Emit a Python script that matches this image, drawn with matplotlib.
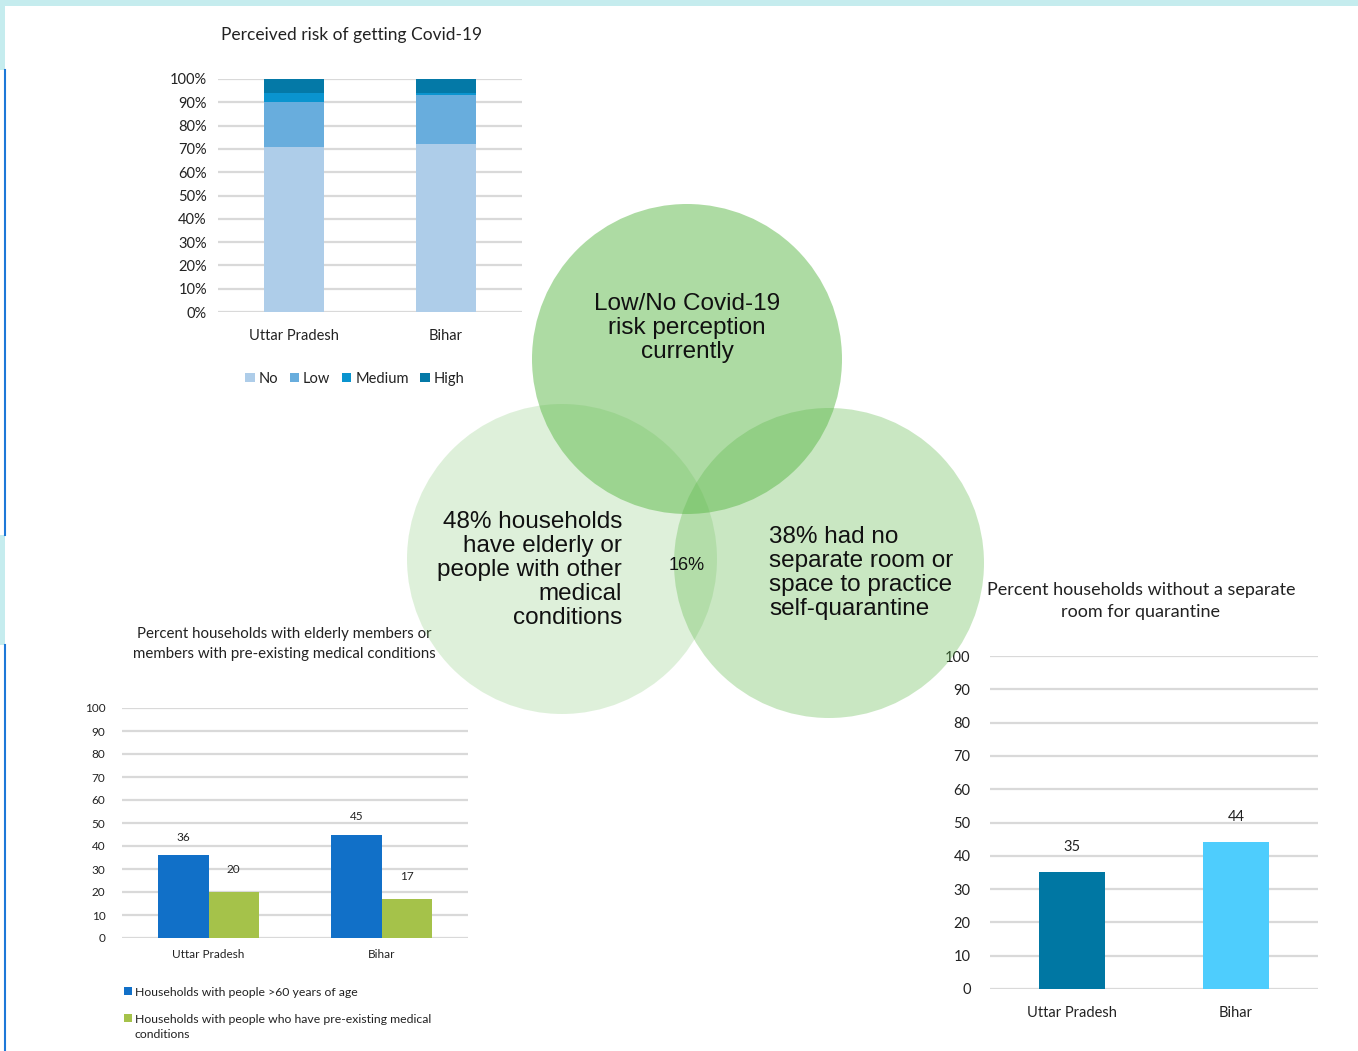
import matplotlib.pyplot as plt
from matplotlib.patches import Circle, Rectangle
import numpy as np

states = ['Uttar Pradesh', 'Bihar']

# perceived risk, % of households
risk_levels = ['No', 'Low', 'Medium', 'High']
risk_up = [71, 19, 4, 6]
risk_bihar = [72, 21, 1, 6]

# elderly / pre-existing conditions
elderly = [36, 45]
medical = [20, 17]

# no separate room for quarantine
no_room = [35, 44]

overlap_pct = '16%'

W, H = 1358, 1051
fig = plt.figure(figsize=(W / 100, H / 100), dpi=100)
font = ['Lato', 'DejaVu Sans']
plt.rcParams['font.family'] = font
grid_c = '#d9d9d9'
text_c = '#222222'


def px_axes(x0, y0, x1, y1):
    # axes from pixel box (top-left origin)
    return fig.add_axes([x0 / W, 1 - y1 / H, (x1 - x0) / W, (y1 - y0) / H])


def style(ax, fs):
    for s in ax.spines.values():
        s.set_visible(False)
    ax.tick_params(length=0, labelsize=fs, colors=text_c, pad=8)
    ax.yaxis.grid(True, color=grid_c, lw=1.6)
    ax.set_axisbelow(True)
    ax.set_xlim(-0.5, 1.5)
    ax.set_xticks(range(len(states)))
    ax.set_xticklabels(states)


# page decoration
fig.add_artist(Rectangle((0, 1 - 6 / H), 1, 6 / H, color='#c5ecee', transform=fig.transFigure, lw=0))
fig.add_artist(Rectangle((0, 1 - 70 / H), 5 / W, 70 / H, color='#c5ecee', transform=fig.transFigure, lw=0))
fig.add_artist(Rectangle((0, 1 - 645 / H), 5 / W, 110 / H, color='#c5ecee', transform=fig.transFigure, lw=0))
fig.add_artist(plt.Line2D([4.5 / W] * 2, [1 - 70 / H, 1 - 535 / H], color='#1e78d8', lw=1.5, transform=fig.transFigure))
fig.add_artist(plt.Line2D([4.5 / W] * 2, [1 - 645 / H, 0], color='#1e78d8', lw=1.5, transform=fig.transFigure))

# stacked risk chart
ax1 = px_axes(218, 79, 522, 312)
style(ax1, 10.5)
risk_colors = ['#aecde9', '#68addd', '#0a94cf', '#0479a7']
bottom = np.zeros(2)
for i, lvl in enumerate(risk_levels):
    vals = np.array([risk_up[i], risk_bihar[i]])
    ax1.bar(range(2), vals, 0.4, bottom=bottom, color=risk_colors[i], label=lvl)
    bottom += vals
ax1.set_ylim(0, 100)
ax1.set_yticks(range(0, 101, 10))
ax1.set_yticklabels([f'{v}%' for v in range(0, 101, 10)])
ax1.tick_params(axis='x', pad=12)
ax1.set_title('Perceived risk of getting Covid-19', fontsize=12.5, color=text_c, pad=28, x=0.44)
ax1.legend(loc='upper center', bbox_to_anchor=(0.45, -0.2), ncol=4, frameon=False,
           fontsize=10.5, handlelength=0.65, handleheight=0.65, handletextpad=0.25,
           columnspacing=0.8, labelcolor=text_c)

# elderly / medical chart
ax2 = px_axes(122, 708, 468, 938)
style(ax2, 8.5)
bw = 0.29
x = np.arange(2)
b1 = ax2.bar(x - bw / 2, elderly, bw, color='#1170c8',
             label='Households with people >60 years of age')
b2 = ax2.bar(x + bw / 2, medical, bw, color='#a5c24a',
             label='Households with people who have pre-existing medical\nconditions')
ax2.bar_label(b1, padding=9, fontsize=8.5, color=text_c)
ax2.bar_label(b2, padding=12, fontsize=8.5, color=text_c)
ax2.set_ylim(0, 100)
ax2.set_yticks(range(0, 101, 10))
ax2.tick_params(axis='y', pad=12)
ax2.set_title('Percent households with elderly members or\nmembers with pre-existing medical conditions',
              fontsize=10.8, color=text_c, pad=36, x=0.47, linespacing=1.55)
leg2 = ax2.legend(loc='upper left', bbox_to_anchor=(-0.025, -0.165), ncol=1, frameon=False,
                  fontsize=8.8, handlelength=0.6, handleheight=0.6, handletextpad=0.25,
                  labelspacing=1.3, labelcolor=text_c)
for t in leg2.get_texts():
    t.set_linespacing(1.5)
# keep the swatch next to the first line of a wrapped label
for col in leg2._legend_handle_box.get_children():
    for row in col.get_children():
        row.align = 'top'

# quarantine room chart
ax3 = px_axes(990, 656, 1318, 989)
style(ax3, 10.5)
b3 = ax3.bar(x, no_room, 0.4, color=['#0077a3', '#4ecdfd'])
ax3.bar_label(b3, padding=13, fontsize=10.5, color=text_c)
ax3.set_ylim(0, 100)
ax3.set_yticks(range(0, 101, 10))
ax3.tick_params(axis='y', pad=14)
ax3.tick_params(axis='x', pad=12)
ax3.set_title('Percent households without a separate\nroom for quarantine',
              fontsize=13, color=text_c, pad=28, x=0.46, linespacing=1.5)

# venn overlay in pixel coordinates
ov = fig.add_axes([0, 0, 1, 1])
ov.set_xlim(0, W)
ov.set_ylim(H, 0)
ov.axis('off')
green = '#5cb848'
ov.add_patch(Circle((687, 359), 155, color=green, alpha=0.5, lw=0))
ov.add_patch(Circle((562, 559), 155, color=green, alpha=0.2, lw=0))
ov.add_patch(Circle((829, 563), 155, color=green, alpha=0.33, lw=0))
vf = ['Liberation Sans', 'DejaVu Sans']
ov.text(687, 328, 'Low/No Covid-19\nrisk perception\ncurrently', ha='center', va='center',
        fontsize=17.5, family=vf, color='#111111', linespacing=1.12)
ov.text(622, 570, '48% households\nhave elderly or\npeople with other\nmedical\nconditions',
        ha='right', va='center', fontsize=17.5, family=vf, color='#111111', linespacing=1.12,
        multialignment='right')
ov.text(769, 573, '38% had no\nseparate room or\nspace to practice\nself-quarantine',
        ha='left', va='center', fontsize=17.5, family=vf, color='#111111', linespacing=1.12)
ov.text(687, 566, overlap_pct, ha='center', va='center', fontsize=13, family=vf, color='#111111')

fig.savefig('out.png', dpi=100)
